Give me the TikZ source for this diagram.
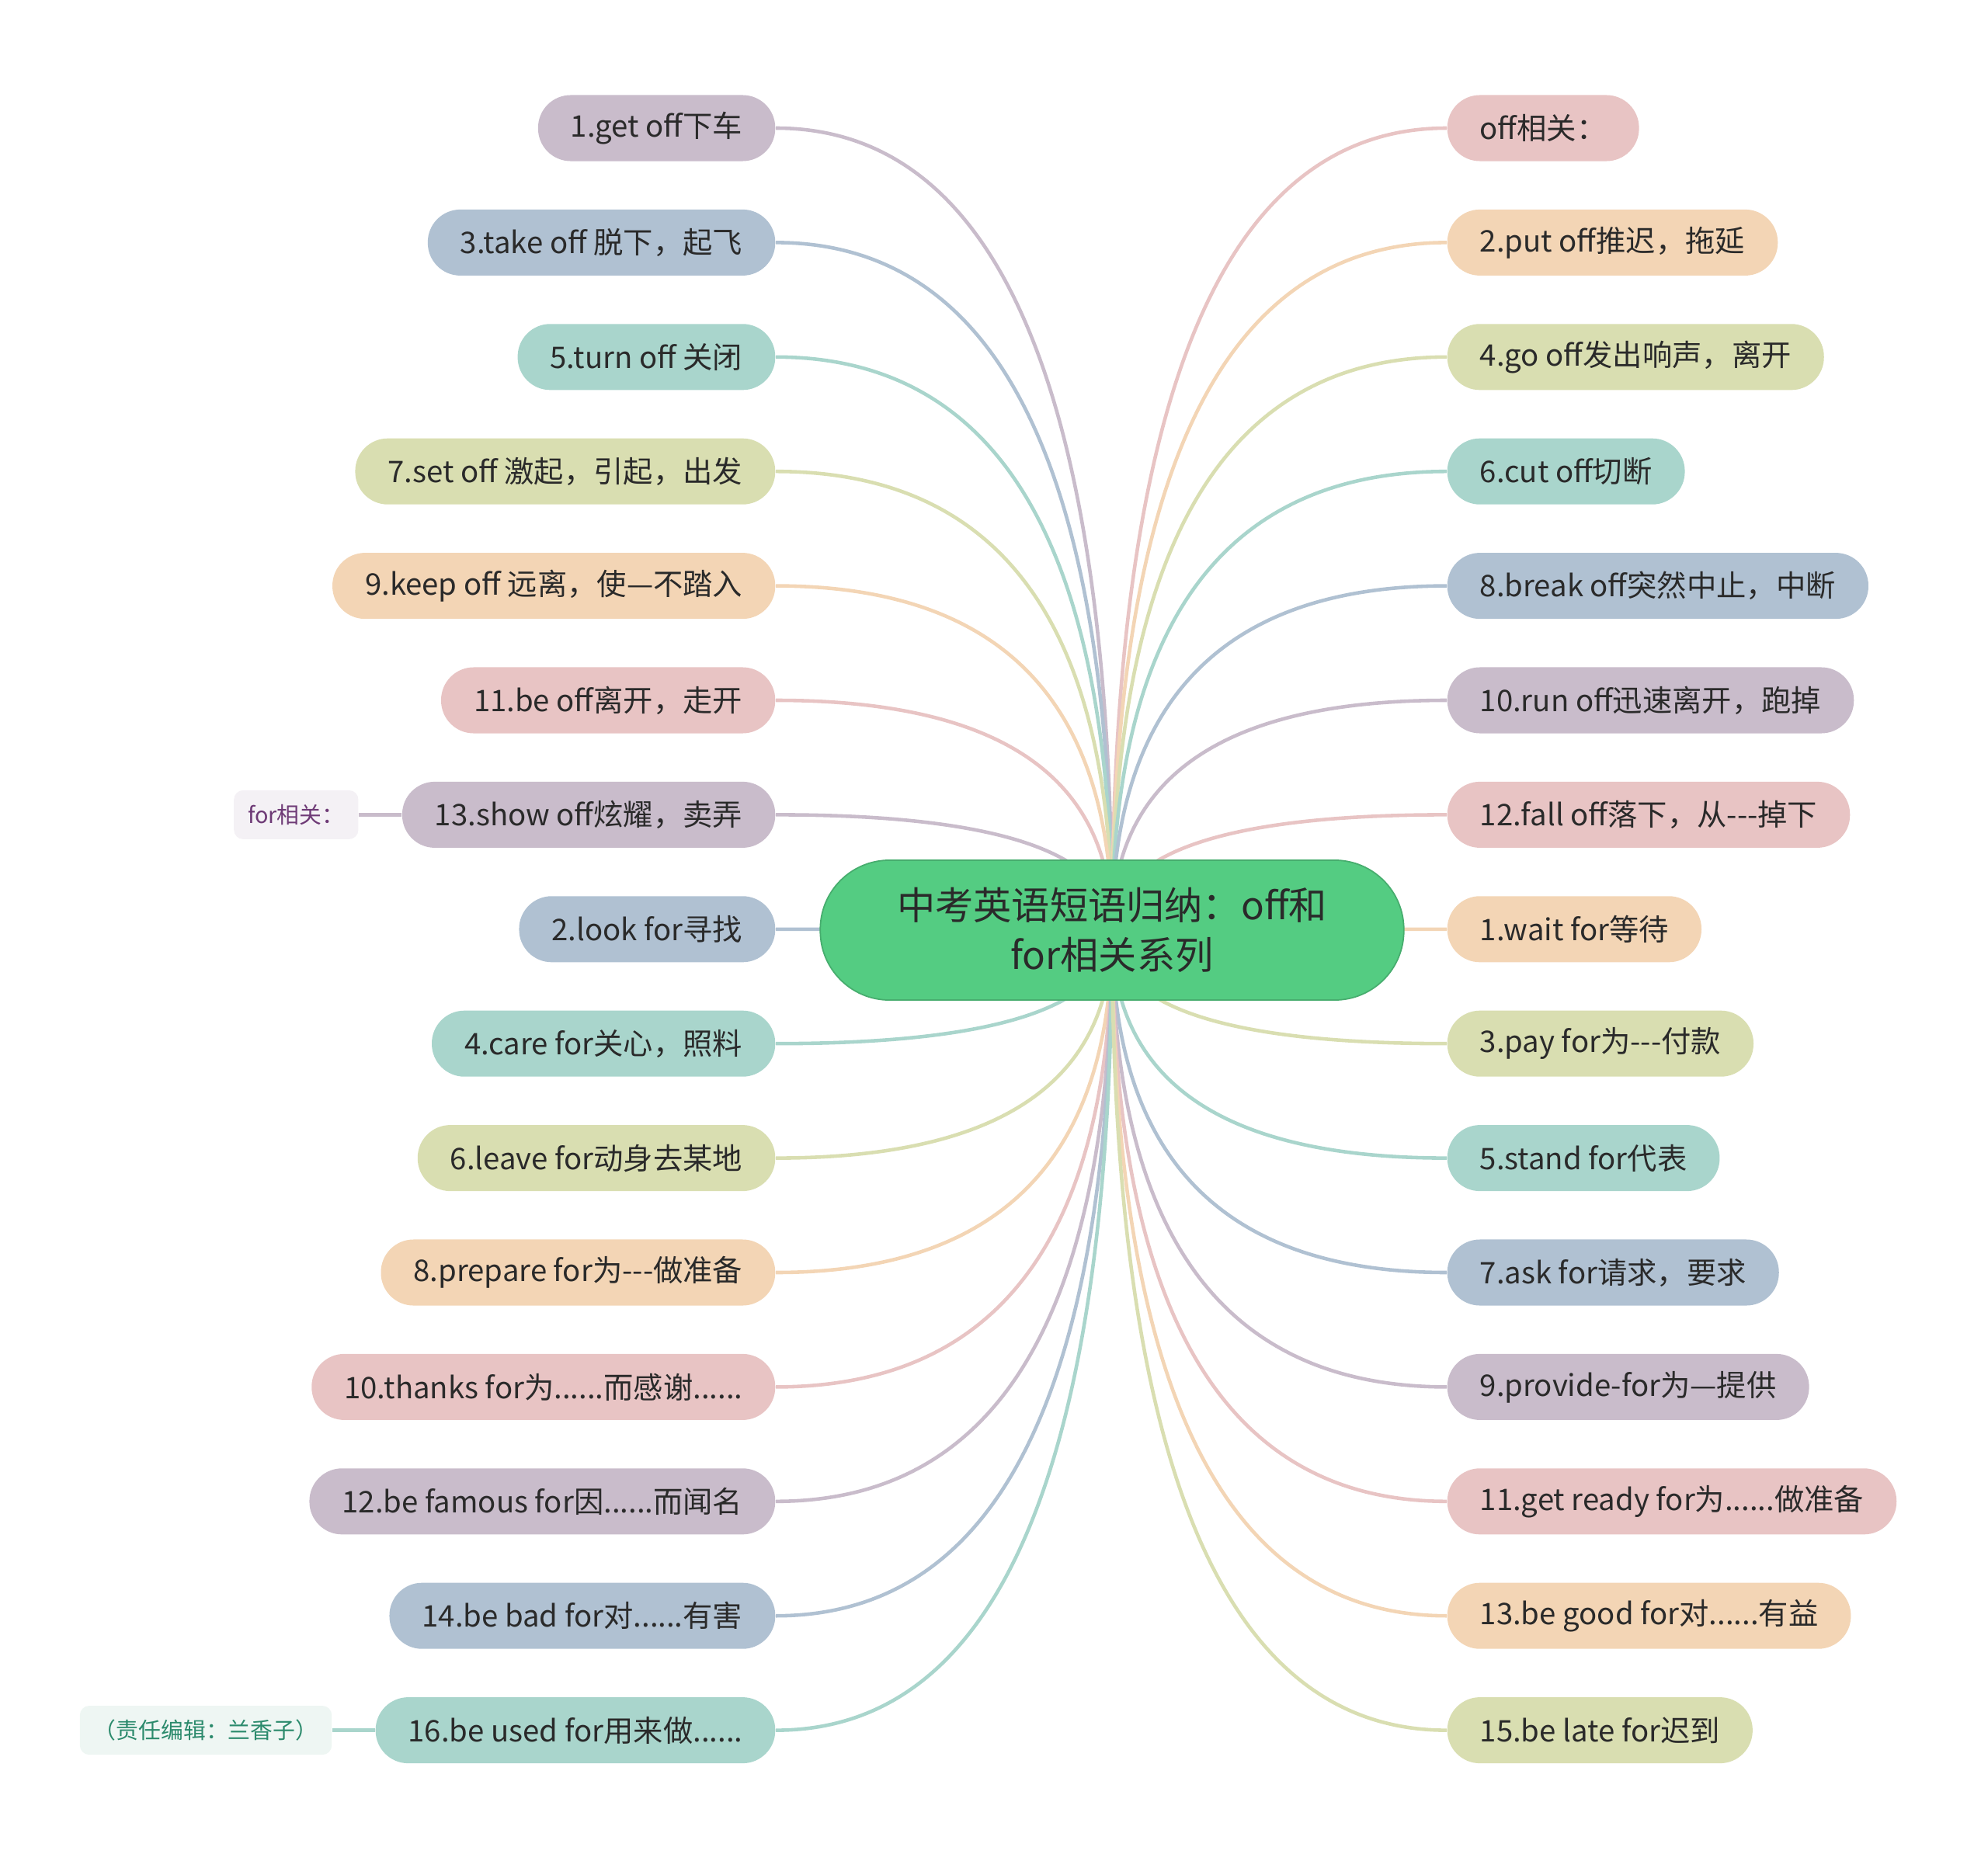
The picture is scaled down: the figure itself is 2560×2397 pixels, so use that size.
\documentclass[tikz,border=0pt]{standalone}
\usepackage{fontspec}
\setmainfont{Noto Sans CJK SC}
\usetikzlibrary{%
    positioning,%
    calc,%
    backgrounds%
}

\definecolor{cpurple}{HTML}{C9BCCB}
\definecolor{cblue}{HTML}{B0C1D2}
\definecolor{cteal}{HTML}{A9D5CC}
\definecolor{colive}{HTML}{D9DEB1}
\definecolor{cpeach}{HTML}{F3D5B5}
\definecolor{cpink}{HTML}{E8C4C4}
\definecolor{cgreen}{HTML}{54CC82}
\definecolor{ctext}{HTML}{2A2A2A}
\definecolor{cnotebg}{HTML}{F4F1F5}
\definecolor{cnotetext}{HTML}{6E3A76}
\definecolor{cnotebgb}{HTML}{EEF6F3}
\definecolor{cnotetextb}{HTML}{2B8A6C}

% six dots and three hyphens (kept out of the loop lists)
\newcommand{\sixdots}{......}
\newcommand{\threedash}{-{}-{}-}

\tikzset{
    root/.style = {rectangle, rounded corners=8.9mm, fill=cgreen, draw=cgreen!85!black,
        line width=0.5pt, minimum width=7.51cm, minimum height=1.8cm, align=center,
        text=ctext, font=\fontsize{14}{18}\selectfont},
    leaf/.style = {rectangle, rounded corners=4.2mm, minimum height=8.5mm,
        inner xsep=4.2mm, inner ysep=0pt, text=ctext, font=\fontsize{10.9}{14}\selectfont},
    note/.style = {rectangle, rounded corners=1.2mm, minimum height=6.3mm,
        inner xsep=1.8mm, inner ysep=0pt, font=\fontsize{8.2}{10}\selectfont},
    link/.style = {line width=1.3pt}
}

\begin{document}
\begin{tikzpicture}[x=0.01cm, y=-0.01cm]
    \useasboundingbox (0,0) rectangle (2560,2397);

    % Central topic
    \node[root] (ctr) at (1432,1198) {中考英语短语归纳：off和\\for相关系列};

    % Left side: off phrases, then for phrases
    \foreach \txt/\col [count=\i] in {%
        1.get off下车/cpurple,
        3.take off 脱下，起飞/cblue,
        5.turn off 关闭/cteal,
        7.set off 激起，引起，出发/colive,
        9.keep off 远离，使—不踏入/cpeach,
        11.be off离开，走开/cpink,
        13.show off炫耀，卖弄/cpurple,
        2.look for寻找/cblue,
        4.care for关心，照料/cteal,
        6.leave for动身去某地/colive,
        8.prepare for为\threedash 做准备/cpeach,
        10.thanks for为\sixdots 而感谢\sixdots/cpink,
        12.be famous for因\sixdots 而闻名/cpurple,
        14.be bad for对\sixdots 有害/cblue,
        16.be used for用来做\sixdots/cteal}{
        \node[leaf, fill=\col, anchor=east] (l\i) at (999,{165+147.4*(\i-1)}) {\txt};
        \begin{pgfonlayer}{background}
            \draw[link, \col] (l\i.east)
                .. controls ($(l\i.east)!0.667!(ctr.center |- l\i.east)$)
                and ($(ctr.center)!0.667!(ctr.center |- l\i.east)$) .. (ctr.center);
        \end{pgfonlayer}
    }

    % Right side
    \foreach \txt/\col [count=\i] in {%
        off相关：/cpink,
        2.put off推迟，拖延/cpeach,
        4.go off发出响声，离开/colive,
        6.cut off切断/cteal,
        8.break off突然中止，中断/cblue,
        10.run off迅速离开，跑掉/cpurple,
        12.fall off落下，从\threedash 掉下/cpink,
        1.wait for等待/cpeach,
        3.pay for为\threedash 付款/colive,
        5.stand for代表/cteal,
        7.ask for请求，要求/cblue,
        9.provide-for为—提供/cpurple,
        11.get ready for为\sixdots 做准备/cpink,
        13.be good for对\sixdots 有益/cpeach,
        15.be late for迟到/colive}{
        \node[leaf, fill=\col, anchor=west] (r\i) at (1863,{165+147.4*(\i-1)}) {\txt};
        \begin{pgfonlayer}{background}
            \draw[link, \col] (r\i.west)
                .. controls ($(r\i.west)!0.667!(ctr.center |- r\i.west)$)
                and ($(ctr.center)!0.667!(ctr.center |- r\i.west)$) .. (ctr.center);
        \end{pgfonlayer}
    }

    % Notes
    \node[note, fill=cnotebg, text=cnotetext, left=0.55cm of l7] (forrel) {for相关：};
    \node[note, fill=cnotebgb, text=cnotetextb, left=0.55cm of l15] (editor) {（责任编辑：兰香子）};
    \draw[link, cpurple] (forrel) -- (l7);
    \draw[link, cteal] (editor) -- (l15);
\end{tikzpicture}
\end{document}
